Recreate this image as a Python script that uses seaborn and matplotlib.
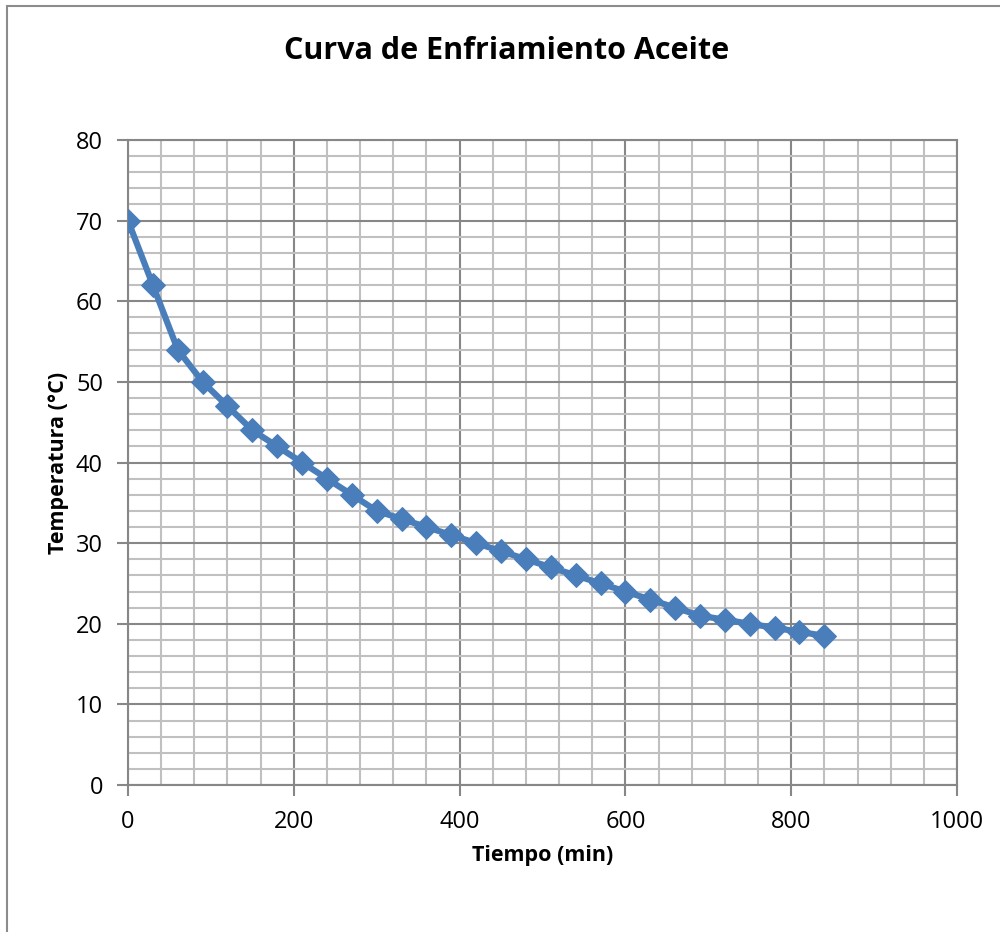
import matplotlib
matplotlib.use("Agg")
import matplotlib.pyplot as plt
import seaborn as sns
import pandas as pd
from matplotlib.ticker import MultipleLocator
from matplotlib.patches import Rectangle

tiempo = [0, 30, 60, 90, 120, 150, 180, 210, 240, 270, 300, 330, 360, 390, 420,
          450, 480, 510, 540, 570, 600, 630, 660, 690, 720, 750, 780, 810, 840]
temperatura = [70, 62, 54, 50, 47, 44, 42, 40, 38, 36, 34, 33, 32, 31, 30,
               29, 28, 27, 26, 25, 24, 23, 22, 21, 20.5, 20, 19.5, 19, 18.5]

df = pd.DataFrame({"Tiempo": tiempo, "Temperatura": temperatura})

sns.set_theme(style="white")
plt.rcParams['font.family'] = ['Open Sans', 'DejaVu Sans']
plt.rcParams['text.color'] = 'black'
plt.rcParams['axes.labelcolor'] = 'black'
plt.rcParams['xtick.labelcolor'] = 'black'
plt.rcParams['ytick.labelcolor'] = 'black'

fig = plt.figure(figsize=(10, 9.32), dpi=100)
ax = fig.add_axes([0.128, 0.1577, 0.829, 0.6921])

# chart-area border (cropped outer frame)
fig.patches.append(Rectangle((0.007, -0.1), 1.1, 1.1 - 0.0064, transform=fig.transFigure,
                             fill=False, edgecolor="#8c8c8c", linewidth=1.5))

sns.lineplot(data=df, x="Tiempo", y="Temperatura", ax=ax, color="#4a7ebb",
             linewidth=4.5, marker="D", markersize=12, markeredgecolor="#4a7ebb",
             zorder=5)

ax.set_xlim(0, 1000)
ax.set_ylim(0, 80)
ax.xaxis.set_major_locator(MultipleLocator(200))
ax.xaxis.set_minor_locator(MultipleLocator(40))
ax.yaxis.set_major_locator(MultipleLocator(10))
ax.yaxis.set_minor_locator(MultipleLocator(2))

ax.grid(which="minor", color="#c0c0c0", linewidth=1.5, zorder=0)
ax.grid(which="major", color="#878787", linewidth=1.5, zorder=1)
ax.set_axisbelow(True)

for s in ax.spines.values():
    s.set_color("#878787")
    s.set_linewidth(1.5)

ax.tick_params(which="major", direction="out", length=8, width=1.5, color="#878787",
               labelsize=17, left=True, bottom=True)
ax.tick_params(which="minor", length=0)
ax.tick_params(axis="y", pad=10)
ax.tick_params(axis="x", pad=10)

ax.set_xlabel("Tiempo (min)", fontsize=15.5, fontweight="bold", labelpad=8)
ax.set_ylabel("Temperatura (°C)", fontsize=15.5, fontweight="bold", labelpad=5)
fig.text(0.507, 0.945, "Curva de Enfriamiento Aceite", ha="center", va="center",
         fontsize=22, fontweight="bold")

fig.savefig("out.png", dpi=100, facecolor="white")
